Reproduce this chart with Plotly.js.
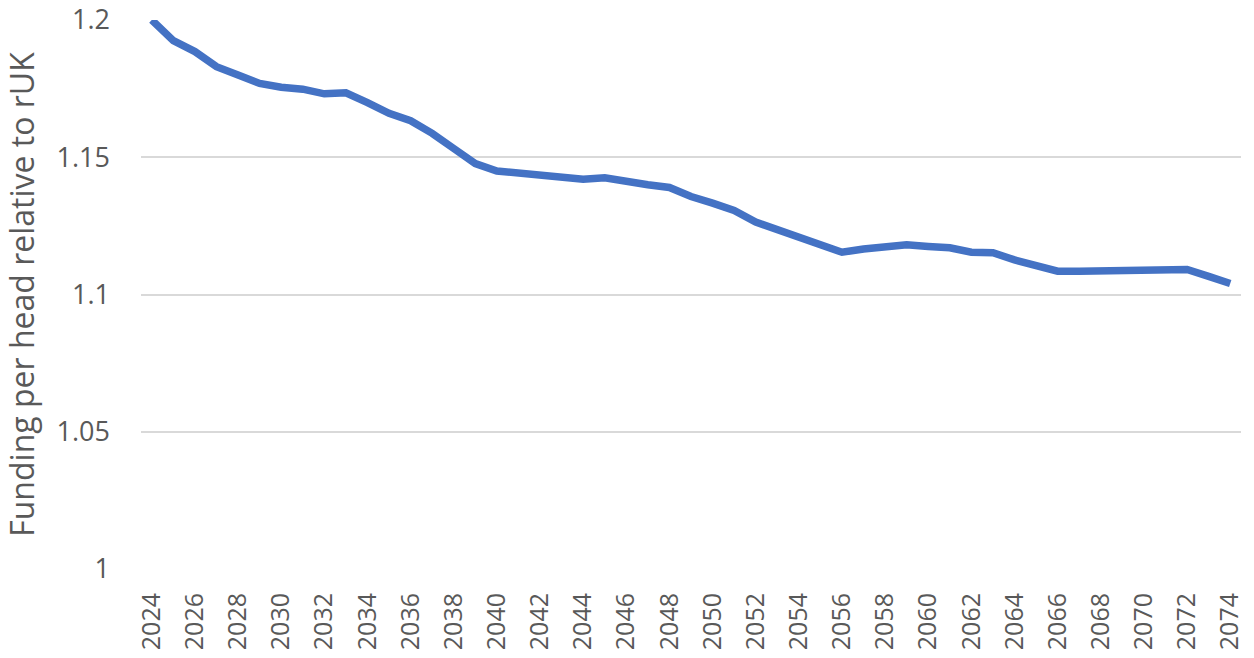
<!DOCTYPE html>
<html>
<head>
<meta charset="utf-8">
<script src="https://cdn.plot.ly/plotly-3.0.1.min.js"></script>
<style>
html,body{margin:0;padding:0;background:#fff;}
#chart{width:1254px;height:658px;}
</style>
</head>
<body>
<div id="chart"></div>
<script>
const years = [2024,2025,2026,2027,2028,2029,2030,2031,2032,2033,2034,2035,2036,2037,2038,2039,2040,2041,2042,2043,2044,2045,2046,2047,2048,2049,2050,2051,2052,2053,2054,2055,2056,2057,2058,2059,2060,2061,2062,2063,2064,2065,2066,2067,2068,2069,2070,2071,2072,2073,2074];
const funding = [1.2000,1.1925,1.1885,1.1830,1.1800,1.1769,1.1755,1.1748,1.1731,1.1735,1.1699,1.1660,1.1633,1.1587,1.1532,1.1477,1.1450,1.1443,1.1435,1.1425,1.1420,1.1425,1.1410,1.1400,1.1390,1.1357,1.1333,1.1306,1.1264,1.1236,1.1205,1.1181,1.1154,1.1166,1.1175,1.1181,1.1175,1.1170,1.1154,1.1152,1.1126,1.1103,1.1085,1.1085,1.1087,1.1088,1.1091,1.1091,1.1091,1.1066,1.1040];
const yTicks = [1, 1.05, 1.1, 1.15, 1.2];
const yTickLabels = ['1', '1.05', '1.1', '1.15', '1.2'];
const xTicks = years.filter(y => (y - 2024) % 2 === 0);
const yTitle = 'Funding per head relative to rUK';

const font = 'Open Sans, Noto Sans, sans-serif';
const trace = {
  x: years, y: funding, type: 'scatter', mode: 'lines',
  line: {color: '#4472C4', width: 7.5, shape: 'linear'},
  hoverinfo: 'x+y'
};
const layout = {
  width: 1254, height: 658,
  margin: {l: 141, r: 13, t: 20, b: 89},
  paper_bgcolor: '#ffffff', plot_bgcolor: '#ffffff',
  showlegend: false,
  xaxis: {
    range: [2023.5, 2074.5],
    tickmode: 'array', tickvals: xTicks, ticktext: xTicks.map(String),
    tickangle: -90,
    tickfont: {family: font, size: 25, color: '#595959'},
    showgrid: false, zeroline: false, showline: false,
    ticks: '', ticklabelstandoff: 18
  },
  yaxis: {
    range: [1, 1.2],
    tickmode: 'array', tickvals: yTicks, ticktext: yTickLabels,
    tickfont: {family: font, size: 27, color: '#595959'},
    showgrid: true, gridcolor: '#D9D9D9', gridwidth: 2,
    zeroline: false, showline: false, ticks: '',
    ticklabelstandoff: 30,
    title: {text: yTitle, font: {family: font, size: 32, color: '#595959'}, standoff: 12}
  }
};
Plotly.newPlot('chart', [trace], layout, {displayModeBar: false, staticPlot: true});
</script>
</body>
</html>
